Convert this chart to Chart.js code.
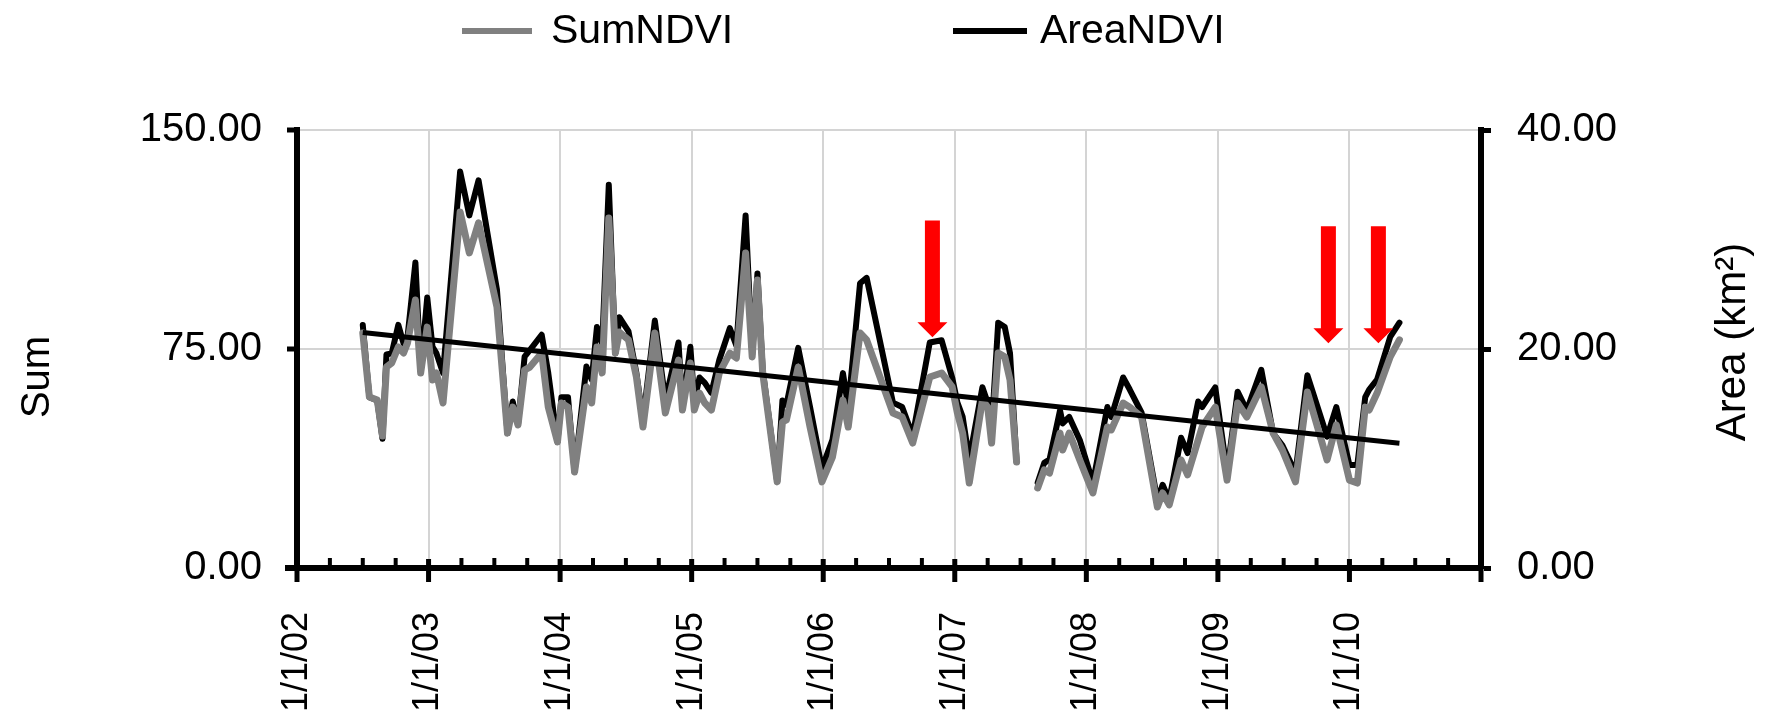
<!DOCTYPE html>
<html>
<head>
<meta charset="utf-8">
<script src="https://cdn.jsdelivr.net/npm/chart.js@4.4.1/dist/chart.umd.min.js"></script>
<style>
html,body{margin:0;padding:0;background:#fff;}
canvas{display:block;}
</style>
</head>
<body>
<canvas id="c" width="1769" height="720"></canvas>
<script>
// ---------- data ----------
const years = [
  2002.50, 2002.55, 2002.61, 2002.65, 2002.68, 2002.72, 2002.77, 2002.81, 2002.84, 2002.90, 2002.94, 2002.99,
  2003.03, 2003.06, 2003.11, 2003.24, 2003.31, 2003.38, 2003.52, 2003.60, 2003.64, 2003.68, 2003.73, 2003.77, 2003.86, 2003.91, 2003.98,
  2004.01, 2004.06, 2004.11, 2004.20, 2004.24, 2004.28, 2004.32, 2004.37, 2004.42, 2004.45, 2004.52, 2004.58, 2004.63, 2004.72, 2004.80, 2004.90, 2004.93, 2004.99,
  2005.02, 2005.06, 2005.10, 2005.15, 2005.21, 2005.29, 2005.34, 2005.41, 2005.46, 2005.50, 2005.54, 2005.65, 2005.69, 2005.72, 2005.81, 2005.90, 2005.99,
  2006.07, 2006.15, 2006.19, 2006.28, 2006.33, 2006.53, 2006.60, 2006.68, 2006.81, 2006.90, 2006.98,
  2007.02, 2007.06, 2007.11, 2007.21, 2007.25, 2007.28, 2007.33, 2007.38, 2007.42, 2007.47, 2007.55, 2007.63, 2007.68, 2007.72, 2007.80, 2007.82, 2007.87, 2007.95,
  2008.05, 2008.16, 2008.19, 2008.28, 2008.33, 2008.42, 2008.54, 2008.58, 2008.63, 2008.72, 2008.77, 2008.85, 2008.88, 2008.98,
  2009.07, 2009.15, 2009.22, 2009.33, 2009.42, 2009.49, 2009.59, 2009.68, 2009.83, 2009.90,
  2010.00, 2010.06, 2010.12, 2010.15, 2010.21, 2010.31, 2010.38
];
const sumNDVI = [
  80.5, 58.6, 57.5, 45.2, 68.8, 70.2, 75.7, 73.6, 77.1, 91.8, 66.8, 82.5,
  64.4, 66.8, 56.5, 121.9, 107.9, 118.2, 89.4, 46.2, 55.1, 49.0, 67.8, 68.8, 73.6, 55.1, 43.2,
  56.5, 55.1, 32.9, 62.0, 56.5, 75.7, 66.8, 119.9, 73.6, 80.8, 78.1, 65.4, 48.3, 80.5, 53.1, 71.2, 54.1, 70.2,
  54.1, 59.9, 56.5, 54.1, 66.8, 73.6, 71.9, 107.9, 72.3, 98.6, 66.8, 29.5, 50.0, 50.7, 68.8, 48.3, 29.5,
  38.0, 57.5, 48.3, 80.5, 78.1, 53.1, 51.7, 42.8, 65.4, 66.8, 62.0,
  53.1, 46.2, 29.1, 57.5, 55.1, 42.8, 73.6, 72.3, 64.4, 36.3, null, 27.4, 33.6, 32.5, 46.2, 40.4, 46.2, 37.0,
  25.7, 48.3, 47.3, 56.5, 55.1, 51.7, 20.9, 25.7, 21.6, 37.0, 31.9, 43.8, 48.3, 55.1,
  30.1, 56.5, 51.7, 62.0, 46.2, 40.4, 29.5, 60.3, 37.0, 49.0,
  30.1, 29.1, 55.1, 54.1, 59.9, 72.3, 78.1
];
const areaNDVI = [
  22.2, 15.6, 15.3, 11.8, 19.5, 19.6, 22.2, 20.5, 21.1, 27.9, 18.1, 24.7,
  20.2, 19.6, 17.8, 36.2, 32.2, 35.4, 25.4, 12.3, 15.2, 13.1, 19.3, 19.9, 21.3, 17.8, 11.5,
  15.6, 15.6, 8.8, 18.4, 17.2, 22.0, 20.5, 35.0, 19.6, 22.9, 21.6, 17.8, 13.5, 22.6, 15.3, 20.6, 14.7, 20.2,
  15.3, 17.4, 16.9, 16.0, 19.0, 21.9, 20.3, 32.2, 19.5, 26.9, 18.1, 7.9, 15.3, 14.9, 20.1, 14.7, 9.1,
  11.7, 17.8, 14.7, 26.0, 26.5, 15.1, 14.7, 12.1, 20.6, 20.8, 17.4,
  15.1, 13.8, 9.9, 16.5, 15.1, 12.6, 22.4, 22.0, 19.6, 9.7, null, 7.8, 9.6, 9.9, 14.4, 13.2, 13.8, 11.7,
  7.8, 14.7, 13.8, 17.4, 16.3, 14.2, 6.2, 7.6, 6.2, 11.9, 10.5, 15.2, 14.7, 16.5,
  8.7, 16.1, 14.4, 18.1, 12.3, 11.2, 8.7, 17.6, 12.0, 14.7,
  9.4, 9.4, 15.6, 16.3, 17.2, 21.1, 22.4
];
const trendYears = [2002.50, 2010.38];
const trendArea = [21.5, 11.4];
const xTickYears = [2002, 2003, 2004, 2005, 2006, 2007, 2008, 2009, 2010];
const xTickLabels = ['1/1/02', '1/1/03', '1/1/04', '1/1/05', '1/1/06', '1/1/07', '1/1/08', '1/1/09', '1/1/10'];
const arrowYears = [2006.83, 2009.84, 2010.22];
const arrowTopSum = [119, 117, 117];
const arrowTipSum = [79, 77, 77];
const seriesNames = ['SumNDVI', 'AreaNDVI'];
const axisTitles = ['Sum', 'Area (km\u00B2)'];

// ---------- chart ----------
const FONT = '"Liberation Sans", Arial, Helvetica, sans-serif';
Chart.defaults.font.family = FONT;
Chart.defaults.color = '#000';

const GRAY = '#808080';
const GRID = '#d4d4d4';

const decor = {
  id: 'decor',
  afterDraw(chart) {
    const ctx = chart.ctx;
    const xs = chart.scales.x, ys = chart.scales.y;
    const yb = ys.getPixelForValue(0);
    ctx.save();
    // x-axis tick marks: yearly (major) and quarterly (minor)
    ctx.strokeStyle = '#000';
    for (let q = 0; q <= 36; q++) {
      const v = xs.min + q * 0.25;
      const px = xs.getPixelForValue(v);
      ctx.beginPath();
      if (q % 4 === 0) {
        ctx.lineWidth = 5;
        ctx.moveTo(px, yb - 9);
        ctx.lineTo(px, yb + 14);
      } else {
        ctx.lineWidth = 4;
        ctx.moveTo(px, yb - 10);
        ctx.lineTo(px, yb);
      }
      ctx.stroke();
    }
    // x axis slight overhang to the left of the y axis
    ctx.lineWidth = 6;
    ctx.beginPath();
    ctx.moveTo(xs.left - 12, yb);
    ctx.lineTo(xs.left, yb);
    ctx.stroke();
    // red arrows
    ctx.fillStyle = '#ff0000';
    for (let i = 0; i < arrowYears.length; i++) {
      const x = xs.getPixelForValue(arrowYears[i]);
      const yt = ys.getPixelForValue(arrowTopSum[i]);
      const yp = ys.getPixelForValue(arrowTipSum[i]);
      const sw = 7.5, hw = 15, hl = 15;
      ctx.beginPath();
      ctx.moveTo(x - sw, yt);
      ctx.lineTo(x + sw, yt);
      ctx.lineTo(x + sw, yp - hl);
      ctx.lineTo(x + hw, yp - hl);
      ctx.lineTo(x, yp);
      ctx.lineTo(x - hw, yp - hl);
      ctx.lineTo(x - sw, yp - hl);
      ctx.closePath();
      ctx.fill();
    }
    // legend
    ctx.font = '41px ' + FONT;
    ctx.textBaseline = 'middle';
    ctx.textAlign = 'left';
    const ly = 31;
    const legendItems = [
      {color: GRAY, x0: 462, x1: 532, tx: 551},
      {color: '#000', x0: 953, x1: 1027, tx: 1040}
    ];
    legendItems.forEach((it, i) => {
      ctx.strokeStyle = it.color;
      ctx.lineWidth = 6;
      ctx.beginPath();
      ctx.moveTo(it.x0, ly);
      ctx.lineTo(it.x1, ly);
      ctx.stroke();
      ctx.fillStyle = '#000';
      ctx.fillText(seriesNames[i], it.tx, ly + 1);
    });
    // axis titles
    ctx.textAlign = 'center';
    ctx.fillStyle = '#000';
    ctx.save();
    ctx.translate(38, 377);
    ctx.rotate(-Math.PI / 2);
    ctx.font = '40px ' + FONT;
    ctx.fillText(axisTitles[0], 0, 0);
    ctx.restore();
    ctx.save();
    ctx.translate(1733, 342);
    ctx.rotate(-Math.PI / 2);
    ctx.font = '42px ' + FONT;
    ctx.fillText(axisTitles[1], 0, 0);
    ctx.restore();
    ctx.restore();
  }
};

new Chart(document.getElementById('c').getContext('2d'), {
  type: 'line',
  data: {
    datasets: [
      {
        label: seriesNames[0],
        data: years.map((x, i) => ({x: x, y: sumNDVI[i]})),
        yAxisID: 'y',
        borderColor: GRAY,
        backgroundColor: GRAY,
        borderWidth: 7,
        pointRadius: 0,
        tension: 0,
        spanGaps: false,
        borderJoinStyle: 'round',
        borderCapStyle: 'round'
      },
      {
        label: seriesNames[1],
        data: years.map((x, i) => ({x: x, y: areaNDVI[i]})),
        yAxisID: 'y1',
        borderColor: '#000',
        backgroundColor: '#000',
        borderWidth: 6,
        pointRadius: 0,
        tension: 0,
        spanGaps: false,
        borderJoinStyle: 'round',
        borderCapStyle: 'round'
      },
      {
        label: 'trend',
        data: trendYears.map((x, i) => ({x: x, y: trendArea[i]})),
        yAxisID: 'y1',
        borderColor: '#000',
        borderWidth: 5,
        pointRadius: 0,
        order: -1
      }
    ]
  },
  options: {
    responsive: false,
    animation: false,
    devicePixelRatio: 1,
    layout: {padding: {top: 130, left: 0, right: 0, bottom: 0}},
    plugins: {legend: {display: false}, tooltip: {enabled: false}},
    scales: {
      x: {
        type: 'linear',
        min: 2002,
        max: 2011,
        afterFit(s) { s.height = 152; },
        ticks: {
          stepSize: 1,
          autoSkip: false,
          maxRotation: 90,
          minRotation: 90,
          padding: 44,
          font: {size: 36},
          color: '#000',
          callback: (v) => {
            const i = xTickYears.indexOf(Math.round(v));
            return i >= 0 ? xTickLabels[i] : '';
          }
        },
        grid: {
          drawTicks: false,
          lineWidth: 2,
          color: (c) => (c.tick && c.tick.value > 2002 && c.tick.value < 2011) ? GRID : 'rgba(0,0,0,0)'
        },
        border: {color: '#000', width: 6}
      },
      y: {
        position: 'left',
        min: 0,
        max: 150,
        afterFit(s) { s.width = 297; },
        ticks: {stepSize: 75, padding: 25, font: {size: 40}, color: '#000', callback: (v) => Number(v).toFixed(2)},
        grid: {
          lineWidth: 2,
          color: (c) => (c.tick && c.tick.value > 0) ? GRID : 'rgba(0,0,0,0)',
          tickColor: '#000',
          tickWidth: 5,
          tickLength: 10
        },
        border: {color: '#000', width: 6}
      },
      y1: {
        position: 'right',
        min: 0,
        max: 40,
        afterFit(s) { s.width = 288; },
        ticks: {stepSize: 20, padding: 26, font: {size: 40}, color: '#000', callback: (v) => Number(v).toFixed(2)},
        grid: {drawOnChartArea: false, tickColor: '#000', tickWidth: 5, tickLength: 10},
        border: {color: '#000', width: 6}
      }
    }
  },
  plugins: [decor]
});
</script>
</body>
</html>
